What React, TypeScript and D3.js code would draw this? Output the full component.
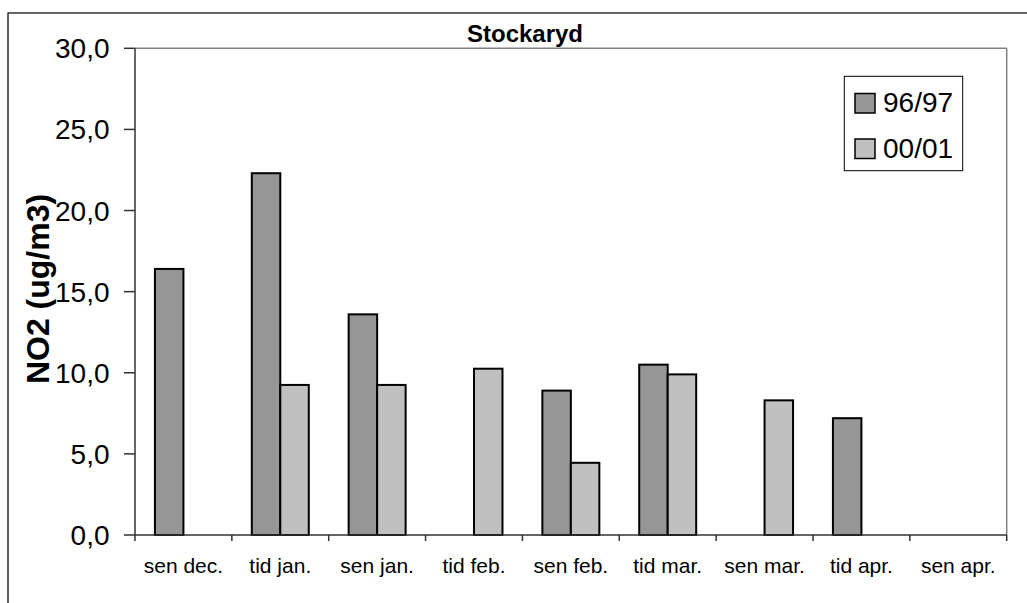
import React from "react";
import * as d3 from "d3";

const categories = ["sen dec.", "tid jan.", "sen jan.", "tid feb.", "sen feb.", "tid mar.", "sen mar.", "tid apr.", "sen apr."];
const seriesNames = ["96/97", "00/01"];
const values9697: (number | null)[] = [16.4, 22.3, 13.6, null, 8.9, 10.5, null, 7.2, null];
const values0001: (number | null)[] = [null, 9.25, 9.25, 10.25, 4.45, 9.9, 8.3, null, null];
const yTicks = [0, 5, 10, 15, 20, 25, 30];
const colors = ["#969696", "#c0c0c0"];

const W = 1027, H = 603;
const left = 135, right = 1006.7, top = 48.3, bottom = 535;
const FONT = "'Liberation Sans', Arial, sans-serif";

export default function App() {
  const x = d3.scaleBand<string>().domain(categories).range([left, right]).paddingInner(0).paddingOuter(0);
  const inner = d3.scaleBand<string>().domain(seriesNames).range([0, x.bandwidth()]).paddingInner(0).paddingOuter(0.7);
  const y = d3.scaleLinear().domain([0, 30]).range([bottom, top]);
  const series = [values9697, values0001];
  const fmt = (v: number) => v.toFixed(1).replace(".", ",");
  const tickXs = categories.map((c) => x(c)!).concat([right]);

  return (
    <svg width={W} height={H} style={{ position: "fixed", left: 0, top: 0, background: "#fff" }} fontFamily={FONT}>
      <rect x={8} y={13} width={W + 20} height={H + 20} fill="#fff" stroke="#000" strokeWidth={1.2} />
      <line x1={left} x2={right} y1={top} y2={top} stroke="#808080" strokeWidth={1.5} />
      <line x1={right} x2={right} y1={top} y2={bottom} stroke="#808080" strokeWidth={1.5} />
      {series.map((vals, si) =>
        vals.map((v, i) =>
          v == null ? null : (
            <rect
              key={`${si}-${i}`}
              x={x(categories[i])! + inner(seriesNames[si])!}
              y={y(v)}
              width={inner.bandwidth()}
              height={y(0) - y(v)}
              fill={colors[si]}
              stroke="#000"
              strokeWidth={2}
            />
          )
        )
      )}
      <line x1={left} x2={left} y1={top} y2={bottom} stroke="#333" strokeWidth={1.5} />
      {yTicks.map((t) => (
        <g key={t}>
          <line x1={left - 11} x2={left} y1={y(t)} y2={y(t)} stroke="#333" strokeWidth={1.5} />
          <text x={109.5} y={y(t)} dy="0.36em" textAnchor="end" fontSize={28} fill="#000">
            {fmt(t)}
          </text>
        </g>
      ))}
      <line x1={left} x2={right} y1={bottom} y2={bottom} stroke="#333" strokeWidth={1.5} />
      {tickXs.map((tx, i) => (
        <line key={i} x1={tx} x2={tx} y1={bottom} y2={bottom + 6} stroke="#333" strokeWidth={1.5} />
      ))}
      {categories.map((c) => (
        <text key={c} x={x(c)! + x.bandwidth() / 2} y={573.3} textAnchor="middle" fontSize={21} fill="#000">
          {c}
        </text>
      ))}
      <text x={525} y={41.7} textAnchor="middle" fontSize={24} fontWeight="bold" fill="#000">
        Stockaryd
      </text>
      <text transform="translate(48.5,289) rotate(-90)" textAnchor="middle" fontSize={32} fontWeight="bold" fill="#000">
        NO2 (ug/m3)
      </text>
      <rect x={844.3} y={76.3} width={118.4} height={94.4} fill="#fff" stroke="#000" strokeWidth={1} />
      {seriesNames.map((s, i) => (
        <g key={s}>
          <rect x={855} y={93.5 + i * 45.5} width={20} height={19.5} fill={colors[i]} stroke="#000" strokeWidth={1.5} />
          <text x={883} y={111.7 + i * 46.3} fontSize={28} fill="#000">
            {s}
          </text>
        </g>
      ))}
    </svg>
  );
}
